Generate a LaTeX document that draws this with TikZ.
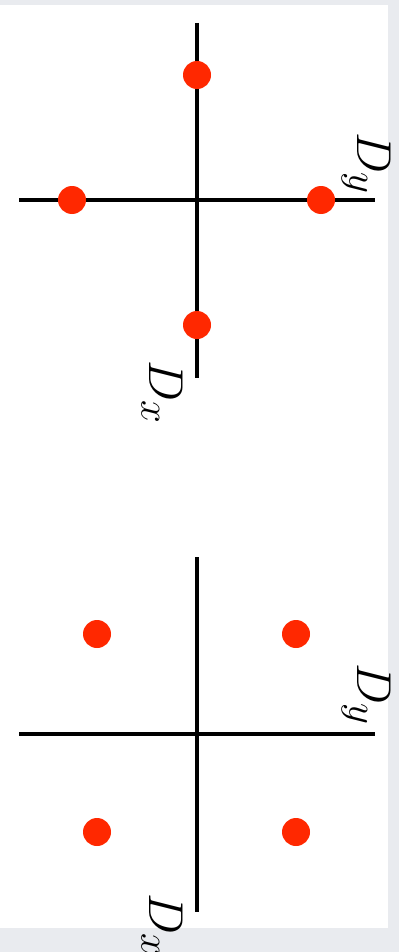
\documentclass[tikz,border=0pt]{standalone}
\usepackage{tikz}
\usepackage{xcolor}
\usepackage{amsmath}
\definecolor{pagegray}{RGB}{233,235,239}
\definecolor{dotred}{RGB}{255,40,0}

\begin{document}
\begin{tikzpicture}[x=0.025cm,y=-0.025cm,
  axis/.style={line width=2.4pt},
  lbl/.style={rotate=-90,anchor=base west,inner sep=0pt,font=\Huge,scale=1.4}]

\useasboundingbox (0,0) rectangle (399,952);
\fill[pagegray] (0,0) rectangle (399,952);
\fill[white] (0,5) rectangle (388,928);

% top: dots on the axes
\draw[axis] (197,23) -- (197,378);
\draw[axis] (19,200) -- (375,200);
\foreach \x/\y in {197/75,72/200,321/200,197/325} \fill[dotred] (\x,\y) circle[radius=14];
\node[lbl] (dy1) at (357,132) {$D_y$};
\node[lbl] (dx1) at (149,360) {$D_x$};

% bottom: dots on the diagonals
\draw[axis] (197,557) -- (197,912);
\draw[axis] (19,734) -- (375,734);
\foreach \x/\y in {97/634,296/634,97/832,296/832} \fill[dotred] (\x,\y) circle[radius=14];
\node[lbl] (dy2) at (357,663) {$D_y$};
\node[lbl] (dx2) at (149,893) {$D_x$};

\end{tikzpicture}
\end{document}
